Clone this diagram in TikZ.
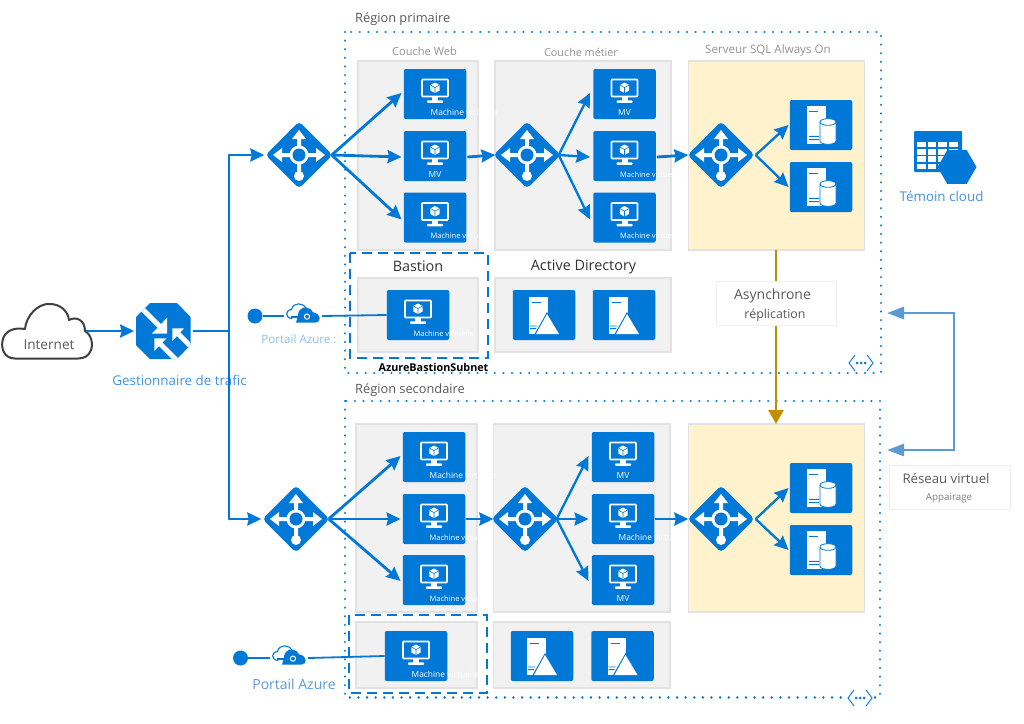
\documentclass[tikz,border=0pt]{standalone}
\usepackage{fontspec}
\setmainfont{Open Sans}
\usetikzlibrary{arrows.meta,shapes.geometric}
\definecolor{azb}{HTML}{0078D7}
\definecolor{panelg}{HTML}{F1F1F1}
\definecolor{panelb}{HTML}{E2E2E2}
\definecolor{sqlf}{HTML}{FFF2CC}
\definecolor{gold}{HTML}{BF8F00}
\definecolor{peer}{HTML}{5B9BD5}
\definecolor{txtg}{HTML}{595959}
\definecolor{lbl}{HTML}{3F93E3}
\newcommand{\fs}[1]{\fontsize{#1}{#1}\selectfont}
\tikzset{
 panel/.style={draw=panelb,fill=panelg,line width=1.2pt},
 sqlpanel/.style={draw=panelb,fill=sqlf,line width=1.2pt},
 tile/.style={fill=azb,rounded corners=2pt,minimum width=62.5pt,minimum height=50pt,inner sep=0pt},
 lbnode/.style={minimum size=63pt,inner sep=0pt},
 arr/.style={draw=azb,line width=2.8pt,-{Stealth[length=14pt,width=13pt,inset=1.5pt]}},
 plain/.style={draw=azb,line width=2.8pt},
 thin/.style={draw=azb,line width=1.8pt},
 regionbox/.style={draw=azb,line width=2.5pt,line cap=round,dash pattern=on 0.01pt off 8.6pt},
 bastionbox/.style={draw=azb,line width=2.6pt,dash pattern=on 10pt off 6pt},
 title/.style={text=txtg,font=\fs{12.8},inner sep=0pt},
 graytitle/.style={text=gray!85,font=\fs{10.8},inner sep=0pt},
 bigtitle/.style={text=black!80,font=\fs{14.4},inner sep=0pt},
 whitet/.style={text=white,font=\fs{7.5},inner sep=0pt},
 bluet/.style={text=lbl,font=\fs{13.4},inner sep=0pt},
 paleb/.style={text=lbl!60,font=\fs{11.6},inner sep=0pt},
 labelbox/.style={draw=black!7,fill=white,line width=1pt},
}
\newcommand{\vmglyph}[2]{%
 \begin{scope}[shift={(#1,#2)}]
  \draw[white,line width=1.6pt,rounded corners=.8pt] (-13,-14.5) rectangle (13,2.5);
  \fill[white] (-3,3) rectangle (3,6.5);
  \fill[white,rounded corners=.8pt] (-8,6.3) rectangle (8,8.8);
  \fill[white] (0,-11.5) -- (4.6,-9) -- (4.6,-3.5) -- (0,-1) -- (-4.6,-3.5) -- (-4.6,-9) -- cycle;
  \draw[azb,line width=.6pt] (-4.6,-9) -- (0,-6.4) -- (4.6,-9) (0,-6.4) -- (0,-1);
 \end{scope}}
% VM tile: name, cx, cy
\newcommand{\vmtile}[3]{%
 \node[tile] (#1) at (#2,#3) {};
 \vmglyph{#2}{#3}
 \node[whitet,anchor=mid west] (#1t) at ([xshift=-4.5pt,yshift=-18.5pt]#1.center) {Machine virtuelle};
}
\newcommand{\vmtilelarge}[3]{%
 \node[tile] (#1) at (#2,#3) {};
 \vmglyph{#2}{#3}
 \node[whitet,font=\fs{8.4},anchor=mid west] (#1t) at ([xshift=-4.5pt,yshift=-18.5pt]#1.center) {Machine virtuelle};
}
\newcommand{\vmtileshort}[3]{%
 \node[tile] (#1) at (#2,#3) {};
 \vmglyph{#2}{#3}
 \node[whitet,font=\fs{8.4},anchor=mid] (#1t) at ([yshift=-18.5pt]#1.center) {MV};
}
% load balancer: name, cx, cy
\newcommand{\lbicon}[3]{%
 \node[lbnode] (#1) at (#2,#3) {};
 \begin{scope}[shift={(#2,#3)}]
  \fill[azb,rounded corners=4pt] (0,-33.5) -- (33.5,0) -- (0,33.5) -- (-33.5,0) -- cycle;
  \fill[white] (-26,0) -- (-17,-7) -- (-17,-2) -- (17,-2) -- (17,-7) -- (26,0) -- (17,7) -- (17,2) -- (-17,2) -- (-17,7) -- cycle;
  \fill[white] (0,-25) -- (-7,-16) -- (-2,-16) -- (-2,18) -- (2,18) -- (2,-16) -- (7,-16) -- cycle;
  \fill[white] (0,0) circle (9.5);
  \fill[azb] (0,0) circle (6.5);
  \fill[white] (0,21) circle (5);
 \end{scope}
}
% SQL tile
\newcommand{\sqltile}[3]{%
 \node[tile] (#1) at (#2,#3) {};
 \begin{scope}[shift={(#2,#3)}]
  \fill[white] (-14.5,-19) rectangle (5,19);
  \fill[azb] (-12,-14.2) rectangle (-3,-13);
  \fill[azb] (-12,10.8) rectangle (-2,11.8) (-12,14.2) rectangle (-2,15.2);
  \path[fill=white,draw=azb,line width=.8pt] (-1,-3) -- (-1,16) .. controls (-1,20.4) and (15,20.4) .. (15,16) -- (15,-3) .. controls (15,-7.4) and (-1,-7.4) .. cycle;
  \draw[azb,line width=.8pt] (-1,-3) .. controls (-1,1.4) and (15,1.4) .. (15,-3);
 \end{scope}
}
% AD tile
\newcommand{\adtile}[3]{%
 \node[tile] (#1) at (#2,#3) {};
 \begin{scope}[shift={(#2,#3)}]
  \fill[white] (-15,-18.5) rectangle (3.5,19);
  \fill[azb] (-12,-13.5) rectangle (-3,-12.4);
  \fill[azb] (-14,10.5) rectangle (-7,11.4) (-14,13.2) rectangle (-8,14.1);
  \fill[azb] (3,-3) -- (-10,20) -- (16,20) -- cycle;
  \fill[white] (3,-1) -- (-8,19) -- (15,19) -- cycle;
 \end{scope}
}
% portal icon
\newcommand{\portal}[3]{%
 \node[inner sep=0pt,minimum width=32pt,minimum height=18pt] (#1) at (#2,#3) {};
 \begin{scope}[shift={(#2,#3)}]
  \fill[azb] (-7,6.5) -- (12.7,6.5) .. controls (18,6.5) and (19,-2) .. (10,-3.7) .. controls (8,-9) and (0,-10) .. (-2.5,-6.5) .. controls (-5,-4) and (-5,-2) .. (-5,0) -- cycle;
  \draw[azb,line width=1.1pt,line cap=round] (-11,2.5) .. controls (-18,2) and (-18,-6) .. (-11.5,-6.5) .. controls (-10,-14) and (1,-14) .. (3,-7);
  \draw[white,line width=2.6pt] (-12,1) -- (3,1);
  \draw[azb,line width=1.1pt] (-12,1) -- (3,1);
  \draw[white,line width=1pt,fill=azb] (4,0.6) circle (2.6);
 \end{scope}
}
% vnet marker
\newcommand{\vnetmark}[3]{%
 \node[inner sep=0pt,minimum width=25pt,minimum height=16pt] (#1) at (#2,#3) {};
 \begin{scope}[shift={(#2,#3)}]
  \fill[white] (-13,-9) rectangle (13,9);
  \draw[azb,line width=.9pt] (-6,-8) -- (-12,0) -- (-6,8) (6,-8) -- (12,0) -- (6,8);
  \fill[azb] (-4,0) circle (1.5) (0,0) circle (1.5) (4,0) circle (1.5);
 \end{scope}
}
\begin{document}
\begin{tikzpicture}[x=1pt,y=-1pt]
\useasboundingbox (0,0) rectangle (1024,723);
\fill[white] (0,0) rectangle (1024,723);

% regions
\draw[regionbox] (345,32) rectangle (881,373);
\draw[regionbox] (345,401) rectangle (880,697.5);
\node[title,anchor=mid west] (rp) at (355,19.5) {Région primaire};
\node[title,anchor=mid west] (rs) at (355,390.5) {Région secondaire};
\node[graytitle,font=\fs{11.1}] (cw) at (424.5,51) {Couche Web};
\node[graytitle] (cm) at (581,52) {Couche métier};
\node[graytitle,font=\fs{11.6}] (ss) at (768,50) {Serveur SQL Always On};

% panels, primary
\draw[panel] (358,61) rectangle (478,250);
\draw[panel] (495,61) rectangle (671,250);
\draw[sqlpanel] (688.5,61) rectangle (864.5,250);
\draw[panel] (358,278) rectangle (478,352);
\draw[panel] (495,278) rectangle (671,352);
% panels, secondary
\draw[panel] (356,424) rectangle (477,612);
\draw[panel] (493.5,424) rectangle (670,612);
\draw[sqlpanel] (688.5,424) rectangle (864.5,612);
\draw[panel] (356,622) rectangle (477,688);
\draw[panel] (493.5,622) rectangle (670,688);

% replication
\node[labelbox,draw=black!6,minimum width=120pt,minimum height=44pt,inner sep=0pt] (rep) at (776,303) {};
\coordinate (repa) at (776,250);
\coordinate (repb) at (776,424);
\draw[gold,line width=2.8pt] (repa) -- (rep.north);
\draw[gold,line width=2.8pt,-{Triangle[length=14pt,width=15pt]}] (rep.south) -- (repb);
\node[title,font=\fs{14}] (rept1) at (772.5,295.5) {Asynchrone};
\node[title,font=\fs{12.4}] (rept2) at (775,315.5) {réplication};

% bastion boxes
\draw[bastionbox] (350,253) rectangle (488,358);
\draw[bastionbox] (349,615) rectangle (487,693);
\node[bigtitle] (bast) at (418,266.5) {Bastion};
\node[bigtitle] (adt) at (583.5,266.5) {Active Directory};
\node[inner sep=0pt,font=\fs{10.8}\bfseries,text=black] (abs) at (433.5,367) {AzureBastionSubnet};

% tiles, primary
\vmtilelarge{wa}{435}{94}
\vmtileshort{wb}{435}{156}
\vmtile{wc}{435}{217.5}
\vmtileshort{ma}{624.5}{94}
\vmtile{mb}{624.5}{156}
\vmtile{mc}{624.5}{217.5}
\sqltile{sa}{821}{125}
\sqltile{sb}{821}{187}
\vmtile{ba}{418}{315}
\adtile{ada}{544}{315}
\adtile{adb}{624}{315}
% tiles, secondary
\vmtilelarge{xa}{434}{457}
\vmtile{xb}{434}{519}
\vmtile{xc}{434}{580}
\vmtileshort{na}{623}{457}
\vmtilelarge{nb}{623}{519}
\vmtileshort{nc}{623}{580}
\sqltile{ta}{821}{488}
\sqltile{tb}{821}{550}
\vmtilelarge{bb}{416}{656}
\adtile{adc}{542}{656}
\adtile{add}{622.5}{656}

% load balancers
\lbicon{lw}{299}{155}
\lbicon{lm}{527}{155}
\lbicon{ls}{721}{155}
\lbicon{lx}{296}{519}
\lbicon{ln}{525}{519}
\lbicon{lt}{721}{519}

% internet
\node[inner sep=0pt,minimum width=90pt,minimum height=56pt] (net) at (47,331) {};
\draw[fill=white,draw=black!75,line width=2pt,line join=round]
 (15,358.5) .. controls (4,358.5) and (1,348) .. (2.5,341)
 .. controls (4,331) and (14,327) .. (25,329)
 .. controls (26,316) and (38,303) .. (50,304)
 .. controls (60,304) and (68,311) .. (69,320)
 .. controls (76,316) and (85,320) .. (85,331)
 .. controls (92,335) and (93,345) .. (91,350)
 .. controls (89,356) and (84,358.5) .. (78,358.5) -- cycle;
\node[text=txtg,inner sep=0pt,font=\fs{13.6}] (nett) at (49,345) {Internet};

% traffic manager
\node[inner sep=0pt,minimum width=54pt,minimum height=56pt] (tm) at (163.3,331) {};
\begin{scope}
 \clip (150,303) -- (177,303) -- (190.5,317) -- (190.5,345) -- (177,359) -- (150,359) -- (136,345) -- (136,317) -- cycle;
 \fill[azb] (130,300) rectangle (195,362);
 \begin{scope}[shift={(163.3,331)}]
  \fill[white] (3.8,2.7) -- (3.8,-13.3) -- (-11.5,2.7) -- cycle;
  \draw[white,line width=5pt] (-3,-4) -- (-22,-23);
  \fill[white] (9,-2.7) -- (20.8,-2.7) -- (9,10) -- cycle;
  \draw[white,line width=5pt] (13,1) -- (30,18);
  \fill[white] (-9,7.3) -- (3.2,7.3) -- (-9,20) -- cycle;
  \draw[white,line width=5pt] (-5,11) -- (15,31);
 \end{scope}
\end{scope}
\node[bluet] (tmt) at (179.5,380) {Gestionnaire de trafic};

\coordinate (tmout) at (192.5,331);
\coordinate (bus) at (229,331);
\coordinate (busa) at (229,155);
\coordinate (busb) at (229,519);
\draw[arr] ([xshift=-6pt]net.east) -- ([xshift=-2pt]tm.west);
\draw[plain] (tmout) -- (bus);
\draw[plain,line cap=round] (busa) -- (busb);
\draw[arr] (busa) -- ([xshift=-3pt]lw.west);
\draw[arr] (busb) -- ([xshift=-3pt]lx.west);

% connectors primary
\draw[arr] ([xshift=1pt]lw.east) -- ([xshift=-2pt,yshift=1pt]wa.west);
\draw[arr] ([xshift=1pt]lw.east) -- ([xshift=-2pt,yshift=-1pt]wb.west);
\draw[arr] ([xshift=1pt]lw.east) -- ([xshift=-2pt,yshift=-2pt]wc.west);
\draw[arr] ([xshift=1pt,yshift=-1pt]wb.east) -- ([xshift=0pt]lm.west);
\draw[arr,line width=2.3pt] (lm.east) -- ([xshift=-3pt,yshift=1pt]ma.west);
\draw[arr,line width=2.3pt] (lm.east) -- ([xshift=-3pt,yshift=-1pt]mb.west);
\draw[arr,line width=2.3pt] (lm.east) -- ([xshift=-3pt,yshift=-2pt]mc.west);
\draw[arr] ([xshift=1pt,yshift=-1pt]mb.east) -- ([xshift=-1pt]ls.west);
\draw[arr,line width=2.3pt] ([xshift=3pt]ls.east) -- ([xshift=-1pt]sa.west);
\draw[arr,line width=2.3pt] ([xshift=3pt]ls.east) -- ([xshift=-1pt]sb.west);
% connectors secondary
\draw[arr] ([xshift=1pt]lx.east) -- ([xshift=-2pt,yshift=1pt]xa.west);
\draw[arr] ([xshift=1pt]lx.east) -- ([xshift=-2pt]xb.west);
\draw[arr] ([xshift=1pt]lx.east) -- ([xshift=-2pt,yshift=-1pt]xc.west);
\draw[arr] ([xshift=1pt]xb.east) -- ([xshift=0pt]ln.west);
\draw[arr,line width=2.3pt] (ln.east) -- ([xshift=-3pt,yshift=1pt]na.west);
\draw[arr,line width=2.3pt] (ln.east) -- ([xshift=-3pt]nb.west);
\draw[arr,line width=2.3pt] (ln.east) -- ([xshift=-3pt,yshift=-1pt]nc.west);
\draw[arr] ([xshift=1pt]nb.east) -- ([xshift=-1pt]lt.west);
\draw[arr,line width=2.3pt] ([xshift=3pt]lt.east) -- ([xshift=-1pt]ta.west);
\draw[arr,line width=2.3pt] ([xshift=3pt]lt.east) -- ([xshift=-1pt]tb.west);

% portals
\node[circle,fill=azb,minimum size=15pt,inner sep=0pt] (pd1) at (255,316) {};
\portal{pc1}{303}{316}
\draw[thin] (pd1) -- ([xshift=-3pt]pc1.west);
\draw[thin] ([xshift=3pt]pc1.east) -- (ba.west);
\node[paleb] (pt1) at (299,339) {Portail Azure :};
\node[circle,fill=azb,minimum size=15pt,inner sep=0pt] (pd2) at (240.5,658) {};
\portal{pc2}{289}{658}
\draw[thin] (pd2) -- ([xshift=-3pt]pc2.west);
\draw[thin] ([xshift=3pt]pc2.east) -- (bb.west);
\node[text=peer,inner sep=0pt,font=\fs{14}] (pt2) at (294,684) {Portail Azure};

% witness
\node[fill=azb,rounded corners=1pt,minimum width=48pt,minimum height=41pt,inner sep=0pt] (wit) at (938,151.5) {};
\foreach \r in {0,1,2,3} \foreach \c in {0,1,2,3}
  \fill[white] ({917+\c*10.7},{141.5+\r*7.4}) rectangle ++(8.6,5.6);
\node[regular polygon,regular polygon sides=6,fill=azb,minimum size=39pt,inner sep=0pt] (hex) at (957,167) {};
\node[bluet] (witt) at (941.5,196) {Témoin cloud};

% peering
\node[labelbox,minimum width=121pt,minimum height=44pt,inner sep=0pt] (peerb) at (949.5,487) {};
\coordinate (peerh) at (954,381);
\coordinate (peera) at (887,313);
\coordinate (peerc) at (887,450);
\draw[peer,line width=2.8pt,-{Triangle[length=17pt,width=12pt]}] (peerh) |- (peera);
\draw[peer,line width=2.8pt,-{Triangle[length=17pt,width=12pt]}] (peerh) |- (peerc);
\node[title,font=\fs{13.2}] (peert) at (946,478) {Réseau virtuel};
\node[text=gray,inner sep=0pt,font=\fs{9.8}] (peert2) at (949,498) {Appairage};

% vnet markers
\vnetmark{vm1}{861}{363}
\vnetmark{vm2}{860}{698}
\end{tikzpicture}
\end{document}
